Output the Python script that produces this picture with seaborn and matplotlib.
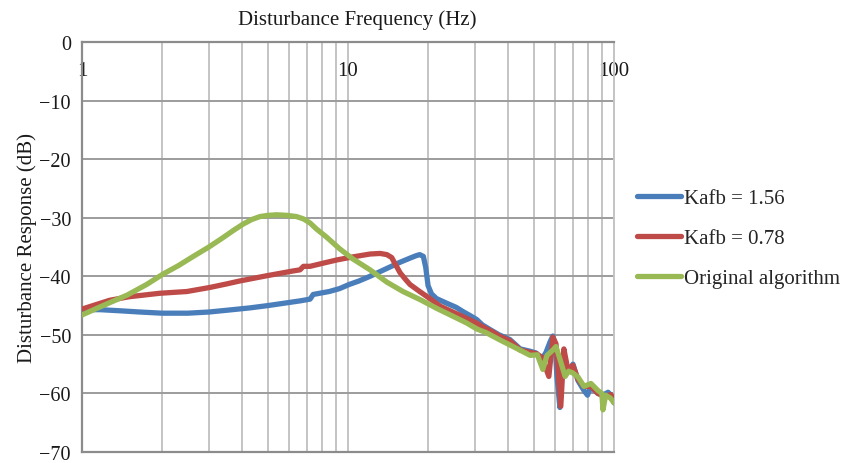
import matplotlib
matplotlib.use("Agg")
import matplotlib.pyplot as plt
from matplotlib.ticker import LogLocator, NullFormatter
import seaborn as sns
import pandas as pd

# Frequency response of the disturbance loop for the three controllers
freq_kafb_156 = [1.00, 1.17, 1.40, 1.65, 2.00, 2.50, 3.00, 3.50, 4.27, 5.00, 5.55, 6.60,
                 7.20, 7.40, 8.50, 9.30, 10.1, 11.0, 12.1, 13.2, 14.4, 15.7, 17.1, 18.0,
                 18.6, 19.2, 19.6, 20.0, 20.6, 21.5, 23.5, 25.5, 27.0, 29.0, 30.5, 32.0,
                 34.5, 37.0, 40.6, 44.4, 48.4, 51.0, 53.5, 55.5, 57.5, 58.9, 60.0, 61.0,
                 62.6, 63.5, 64.8, 67.1, 70.1, 73.2, 77.1, 79.5, 81.9, 84.5, 87.0, 91.7,
                 95.0, 97.4, 100.0]
db_kafb_156 = [-45.7, -45.7, -45.9, -46.1, -46.3, -46.3, -46.1, -45.8, -45.4, -45.0, -44.7, -44.2,
               -43.9, -43.1, -42.6, -42.1, -41.4, -40.8, -40.0, -39.2, -38.4, -37.6, -36.9, -36.5,
               -36.3, -36.6, -38.5, -41.6, -43.0, -43.8, -44.6, -45.3, -46.0, -46.8, -47.4, -48.3,
               -49.2, -50.0, -50.8, -52.4, -52.8, -53.1, -54.2, -53.0, -51.2, -50.2, -51.5, -57.0,
               -62.4, -57.0, -53.3, -56.3, -55.0, -57.8, -59.5, -60.3, -58.8, -59.5, -60.0, -60.2,
               -59.8, -60.3, -61.6]

freq_kafb_078 = [1.00, 1.10, 1.27, 1.50, 1.96, 2.48, 3.03, 3.50, 3.92, 4.96, 6.20, 6.60,
                 6.80, 7.20, 8.00, 9.10, 10.4, 12.1, 13.2, 14.0, 14.6, 15.0, 15.7, 16.5,
                 17.1, 18.6, 20.3, 22.2, 25.6, 28.0, 30.5, 32.0, 35.0, 37.0, 40.6, 44.4,
                 48.4, 51.0, 53.5, 56.9, 58.9, 60.5, 63.1, 64.8, 67.1, 70.1, 73.2, 77.1,
                 81.9, 87.0, 91.7, 97.4, 100.0]
db_kafb_078 = [-45.6, -45.0, -44.1, -43.5, -42.9, -42.6, -41.9, -41.3, -40.8, -39.9, -39.1, -38.9,
               -38.3, -38.3, -37.8, -37.2, -36.7, -36.2, -36.1, -36.3, -36.8, -37.8, -39.4, -40.6,
               -41.4, -42.6, -43.8, -45.1, -46.4, -47.2, -48.0, -48.6, -49.5, -50.2, -51.0, -52.6,
               -53.0, -53.2, -53.8, -57.1, -50.4, -51.5, -62.2, -52.4, -56.0, -55.2, -57.6, -58.8,
               -58.8, -60.0, -60.5, -60.2, -61.3]

freq_original = [1.00, 1.20, 1.48, 1.75, 2.02, 2.30, 2.60, 3.00, 3.39, 3.70, 4.03, 4.35,
                 4.67, 5.00, 5.40, 5.90, 6.40, 6.80, 7.20, 7.60, 8.30, 9.30, 10.4, 12.1,
                 14.0, 16.1, 18.7, 21.6, 25.0, 28.0, 30.5, 33.0, 37.0, 43.0, 48.4, 51.5,
                 54.0, 56.0, 58.9, 60.5, 62.5, 65.5, 67.5, 70.0, 73.2, 77.1, 81.9, 87.0,
                 90.0, 90.9, 93.0, 97.0, 100.0]
db_original = [-46.6, -45.0, -43.2, -41.4, -39.6, -38.2, -36.7, -35.0, -33.4, -32.2, -31.1, -30.3,
               -29.8, -29.6, -29.5, -29.6, -29.8, -30.2, -30.9, -31.9, -33.3, -35.3, -37.0, -38.9,
               -41.0, -42.6, -44.0, -45.5, -46.9, -48.0, -49.0, -49.6, -50.8, -52.3, -53.5, -53.4,
               -55.9, -53.5, -52.6, -52.0, -54.0, -57.1, -56.2, -56.5, -57.2, -58.8, -58.3, -59.5,
               -60.0, -62.8, -60.3, -60.8, -61.6]

series_names = ["Kafb = 1.56", "Kafb = 0.78", "Original algorithm"]
series_colors = ["#4A7EBB", "#BE4B48", "#98B954"]
x_tick_values = [1, 10, 100]
x_tick_labels = ["1", "10", "100"]
y_tick_values = [0, -10, -20, -30, -40, -50, -60, -70]

sns.set_theme(style="white")
plt.rcParams["font.family"] = ["Liberation Serif", "DejaVu Serif"]
plt.rcParams["axes.unicode_minus"] = True

fig = plt.figure(figsize=(8.47, 4.64), dpi=100)
ax = fig.add_axes([82 / 847, 1 - 453 / 464, 532 / 847, 410 / 464])

curves = [
    (freq_kafb_156, db_kafb_156),
    (freq_kafb_078, db_kafb_078),
    (freq_original, db_original),
]
for (f, d), name, color in zip(curves, series_names, series_colors):
    df = pd.DataFrame({"freq": f, "db": d})
    sns.lineplot(data=df, x="freq", y="db", color=color, linewidth=3.8,
                 estimator=None, sort=False, label=name, ax=ax,
                 solid_capstyle="round", solid_joinstyle="round", zorder=3)

ax.set_xscale("log")
ax.set_xlim(1, 100)
ax.set_ylim(-70, 0)
ax.set_xticks(x_tick_values, labels=x_tick_labels)
ax.xaxis.set_minor_locator(LogLocator(base=10, subs=range(2, 10)))
ax.xaxis.set_minor_formatter(NullFormatter())
ax.set_yticks(y_tick_values)

ax.xaxis.grid(True, which="both", color="#c4c4c4", linewidth=1.4, zorder=0)
ax.yaxis.grid(True, which="major", color="#9c9c9c", linewidth=1.4, zorder=0)
ax.set_axisbelow(True)

ax.tick_params(axis="x", which="both", top=True, bottom=False, labeltop=True,
               labelbottom=False, length=0, pad=-27, labelsize=15, colors="#1a1a1a")
ax.tick_params(axis="y", which="both", length=0, pad=8, labelsize=14.5, colors="#1a1a1a")
for lbl in ax.get_yticklabels():
    lbl.set_verticalalignment("center_baseline")

for side in ["left", "top", "bottom"]:
    ax.spines[side].set_color("#8c8c8c")
    ax.spines[side].set_linewidth(1.6)
ax.spines["right"].set_color("#c4c4c4")
ax.spines["right"].set_linewidth(1.4)

ax.set_xlabel("")
ax.set_ylabel("Disturbance Response (dB)", fontsize=15, color="#1a1a1a", labelpad=2)
fig.text(357 / 847, 1 - 20 / 464, "Disturbance Frequency (Hz)", fontsize=15,
         color="#1a1a1a", ha="center", va="center")

ax.legend(loc="center left", bbox_to_anchor=(637 / 847, 1 - 239 / 464),
          bbox_transform=fig.transFigure, frameon=False, fontsize=15,
          handlelength=2.1, handletextpad=0.15, labelspacing=0.98,
          borderpad=0, borderaxespad=0)

fig.savefig("out.png", dpi=100)
